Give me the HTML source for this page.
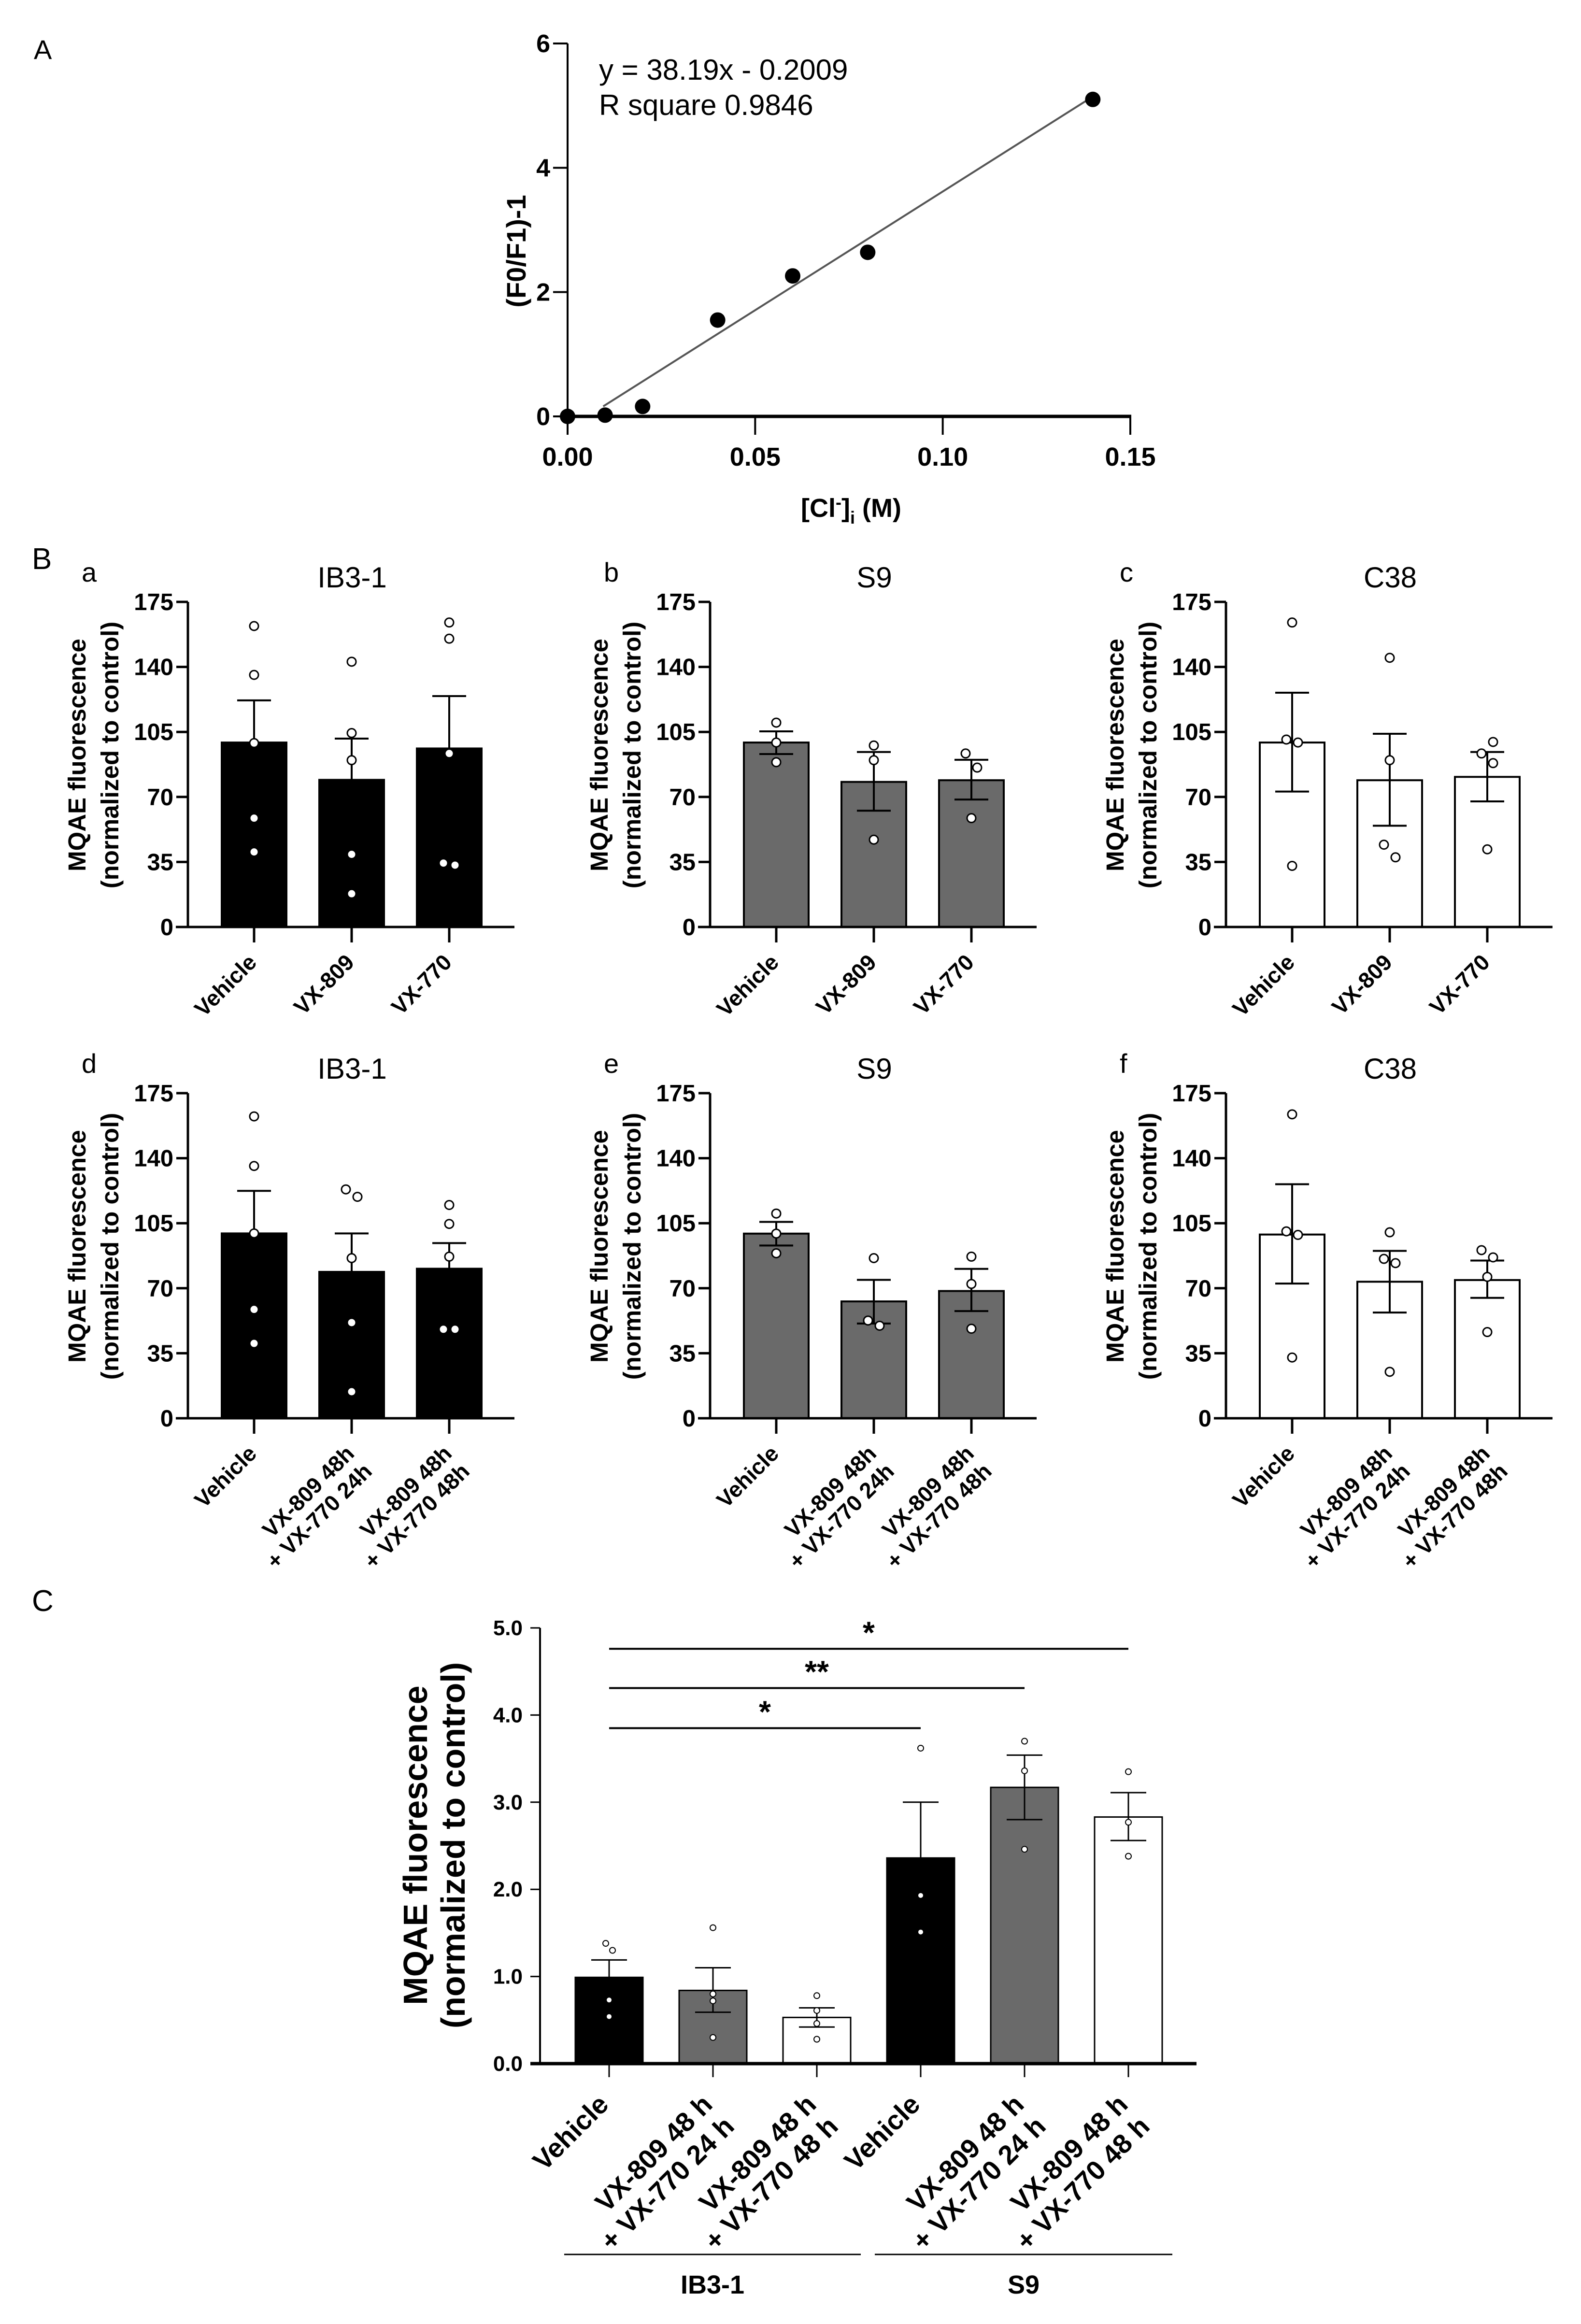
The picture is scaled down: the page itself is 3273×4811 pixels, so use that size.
<!DOCTYPE html>
<html><head><meta charset="utf-8">
<style>
html,body{margin:0;padding:0;background:#fff;}
svg{display:block;}
text{font-family:"Liberation Sans",Arial,sans-serif;fill:#000;}
</style></head>
<body>
<svg id="fig" xmlns="http://www.w3.org/2000/svg" width="3273" height="4811" viewBox="0 0 3273 4811">
<rect x="0" y="0" width="3273" height="4811" fill="#fff"/>
</svg>
<script>
// ---------- Panel A data ----------
const aConc = [0, 0.01, 0.02, 0.04, 0.06, 0.08, 0.14];
const aRatio = [0, 0.02, 0.16, 1.55, 2.26, 2.64, 5.10];
const aXTicks = [0, 0.05, 0.10, 0.15];
const aXTickLabels = ["0.00", "0.05", "0.10", "0.15"];
const aYTicks = [0, 2, 4, 6];
const aFitSlope = 38.19;
const aFitIntercept = -0.2009;
const aFitRange = [0.0095, 0.14];

// ---------- Panel B data ----------
const bTicks = [0, 35, 70, 105, 140, 175];
const bCatsTop = ["Vehicle", "VX-809", "VX-770"];
const bCatsBottom = [["Vehicle"], ["VX-809 48h", "+ VX-770 24h"], ["VX-809 48h", "+ VX-770 48h"]];
const bTitles = ["IB3-1", "S9", "C38", "IB3-1", "S9", "C38"];
const bLetters = ["a", "b", "c", "d", "e", "f"];
const bMeans = [
  [99.3, 79.2, 96.1],
  [99.3, 78.1, 79.0],
  [99.3, 79.0, 80.8],
  [99.5, 78.8, 80.5],
  [99.4, 62.9, 68.5],
  [98.9, 73.5, 74.4]
];
const bErrHi = [
  [122, 101.4, 124.3],
  [105.3, 94.2, 90.0],
  [126.1, 104.0, 94.2],
  [122.4, 99.5, 94.3],
  [105.7, 74.5, 80.4],
  [126, 90.1, 84.9]
];
const bErrLo = [
  [76.6, 57.0, 67.9],
  [93.1, 62.6, 68.6],
  [72.9, 54.5, 67.6],
  [76.6, 58.1, 66.7],
  [93.0, 51.0, 57.7],
  [72.5, 56.9, 64.8]
];
const bPoints = [
  [[162, 135.7, 99, 58.6, 40.4], [142.8, 104.4, 89.8, 39.1, 17.9], [163.9, 155.2, 93.4, 34.4, 33.3]],
  [[110, 99.3, 88.7], [97.7, 89.8, 47.0], [93.4, 85.8, 58.6]],
  [[163.9, 100.9, 99.3, 32.9], [144.9, 89.8, 44.3, 37.5], [99.6, 93.4, 88.2, 41.8]],
  [[162.5, 135.8, 99.5, 58.6, 40.3], [123.2, 119.2, 86.2, 51.5, 14.3], [114.8, 104.6, 87.0, 47.9, 47.9]],
  [[110.2, 99.4, 88.8], [86.2, 52.6, 49.8], [87.0, 72.3, 48.2]],
  [[163.6, 100.6, 98.7, 32.7], [100.1, 85.8, 83.5, 25.0], [90.5, 86.6, 76.1, 46.4]]
];
const bPointJitter = [
  [[0,0,0,0,0],[0,0,0,0,0],[0,0,0,-1,1]],
  [[0,0,0],[0,0,0],[-1,1,0]],
  [[0,-1,1,0],[0,0,-1,1],[1,-1,1,0]],
  [[0,0,0,0,0],[-1,1,0,0,0],[0,0,0,-1,1]],
  [[0,0,0],[0,-1,1],[0,0,0]],
  [[0,-1,1,0],[0,-1,1,0],[-1,1,0,0]]
];
const bFills = ["#000000", "#6a6a6a", "#ffffff", "#000000", "#6a6a6a", "#ffffff"];

// ---------- Panel C data ----------
const cTicks = [0, 1, 2, 3, 4, 5];
const cTickLabels = ["0.0", "1.0", "2.0", "3.0", "4.0", "5.0"];
const cCats = [["Vehicle"], ["VX-809 48 h", "+ VX-770 24 h"], ["VX-809 48 h", "+ VX-770 48 h"], ["Vehicle"], ["VX-809 48 h", "+ VX-770 24 h"], ["VX-809 48 h", "+ VX-770 48 h"]];
const cMeans = [0.99, 0.84, 0.53, 2.36, 3.17, 2.83];
const cErrHi = [1.19, 1.10, 0.64, 3.00, 3.54, 3.11];
const cErrLo = [0.79, 0.59, 0.42, 1.72, 2.80, 2.56];
const cPoints = [[1.38, 1.30, 0.73, 0.54], [1.56, 0.80, 0.72, 0.30], [0.78, 0.61, 0.46, 0.28], [3.62, 1.93, 1.51], [3.70, 3.36, 2.46], [3.35, 2.77, 2.38]];
const cPointJitter = [[-1, 1, 0, 0], [0, 0, 0, 0], [0, 0, 0, 0], [0, 0, 0], [0, 0, 0], [0, 0, 0]];
const cFills = ["#000000", "#6a6a6a", "#ffffff", "#000000", "#6a6a6a", "#ffffff"];
const cGroups = ["IB3-1", "S9"];
const cSig = [{from: 0, to: 3, label: "*", y: 3.85}, {from: 0, to: 4, label: "**", y: 4.31}, {from: 0, to: 5, label: "*", y: 4.76}];

const NS = "http://www.w3.org/2000/svg";
const svg = document.getElementById("fig");
function mk(tag, attrs, parent) {
  const e = document.createElementNS(NS, tag);
  for (const k in attrs) e.setAttribute(k, attrs[k]);
  (parent || svg).appendChild(e);
  return e;
}
function txt(s, attrs, parent) { const t = mk("text", attrs, parent); t.textContent = s; return t; }

// ================= Panel A =================
(function () {
  const g = mk("g", {});
  
  
  const X0 = 1175, X1 = 2340, Y0 = 862, Y1 = 90;
  const sx = v => X0 + (v - 0) / 0.15 * (X1 - X0);
  const sy = v => Y0 - v / 6 * (Y0 - Y1);
  let t = txt("A", {x: 70, y: 122, "font-size": 56}, g);
  
  
  let l = mk("line", {x1: X0, y1: Y0, x2: X0, y2: Y1, stroke: "#000", "stroke-width": 4}, g);
  
  
  l = mk("line", {x1: X0 - 2, y1: Y0, x2: X1 + 2, y2: Y0, stroke: "#000", "stroke-width": 7}, g);
  
  
  aYTicks.forEach(v => {
    const tk = mk("line", {x1: X0 - 30, y1: sy(v), x2: X0, y2: sy(v), stroke: "#000", "stroke-width": 4}, g);
    
    
    const tl = txt(String(v), {x: X0 - 36, y: sy(v) + 18, "font-size": 52, "font-weight": "bold", "text-anchor": "end"}, g);
    
    
  });
  aXTicks.forEach((v, i) => {
    const tk = mk("line", {x1: sx(v), y1: Y0, x2: sx(v), y2: Y0 + 38, stroke: "#000", "stroke-width": 4}, g);
    
    
    const tl = txt(aXTickLabels[i], {x: sx(v), y: Y0 + 102, "font-size": 54, "font-weight": "bold", "text-anchor": "middle"}, g);
    
    
  });
  const fit = mk("line", {x1: sx(aFitRange[0]), y1: sy(aFitSlope * aFitRange[0] + aFitIntercept), x2: sx(aFitRange[1]), y2: sy(aFitSlope * aFitRange[1] + aFitIntercept), stroke: "#555", "stroke-width": 4}, g);
  
  
  aConc.forEach((c, i) => {
    const p = mk("ellipse", {cx: sx(c), cy: sy(aRatio[i]), rx: 16, ry: 16, fill: "#000"}, g);
    
    
  });
  t = txt("y = 38.19x - 0.2009", {x: 1240, y: 165, "font-size": 60}, g);
  
  
  t = txt("R square 0.9846", {x: 1240, y: 238, "font-size": 60}, g);
  
  
  t = txt("(F0/F1)-1", {x: 0, y: 0, "font-size": 56, "font-weight": "bold", "text-anchor": "middle", transform: "translate(1088,520) rotate(-90)"}, g);
  
  
  t = mk("text", {x: 1762, y: 1070, "font-size": 54, "font-weight": "bold", "text-anchor": "middle"}, g);
  t.innerHTML = '[Cl<tspan dy="-18" font-size="36">-</tspan><tspan dy="18">]</tspan><tspan dy="14" font-size="36">i</tspan><tspan dy="-14"> (M)</tspan>';
  
  
})();

// ================= Panel B =================
let t0 = txt("B", {x: 66, y: 1178, "font-size": 62}, svg);



const axisXs = [389, 1470, 2538];
const rows = [{y0: 1919, y175: 1246}, {y0: 2936, y175: 2263}];
for (let p = 0; p < 6; p++) {
  const row = Math.floor(p / 3), col = p % 3;
  const AX = axisXs[col], Y0 = rows[row].y0, YT = rows[row].y175;
  const sy = v => Y0 - v / 175 * (Y0 - YT);
  const bx = i => AX + 137 + i * 202;
  const g = mk("g", {});
  
  
  let t = txt(bLetters[p], {x: AX - 220, y: YT - 42, "font-size": 56}, g);
  
  
  t = txt(bTitles[p], {x: AX + 340, y: YT - 30, "font-size": 60, "text-anchor": "middle"}, g);
  
  
  t = txt("MQAE fluorescence", {x: 0, y: 0, "font-size": 51, "font-weight": "bold", "text-anchor": "middle", transform: "translate(" + (AX - 212) + "," + (Y0 - 356) + ") rotate(-90)"}, g);
  
  
  t = txt("(normalized to control)", {x: 0, y: 0, "font-size": 51, "font-weight": "bold", "text-anchor": "middle", transform: "translate(" + (AX - 144) + "," + (Y0 - 356) + ") rotate(-90)"}, g);
  
  
  for (let i = 0; i < 3; i++) {
    const r = mk("rect", {x: bx(i) - 67, y: sy(bMeans[p][i]), width: 134, height: Y0 - sy(bMeans[p][i]), fill: bFills[p], stroke: "#000", "stroke-width": 4}, g);
    
    
    const e = mk("path", {d: "M" + bx(i) + "," + sy(bErrLo[p][i]) + "V" + sy(bErrHi[p][i]) + "M" + (bx(i) - 35) + "," + sy(bErrHi[p][i]) + "h70M" + (bx(i) - 35) + "," + sy(bErrLo[p][i]) + "h70", stroke: "#000", "stroke-width": 4, fill: "none"}, g);
    
    
    bPoints[p][i].forEach((v, k) => {
      const c = mk("circle", {cx: bx(i) + bPointJitter[p][i][k] * 12, cy: sy(v), r: 9, fill: "#fff", stroke: "#000", "stroke-width": 3}, g);
      
      
    });
    const tk = mk("line", {x1: bx(i), y1: Y0, x2: bx(i), y2: Y0 + 32, stroke: "#000", "stroke-width": 5}, g);
    
    
    const lab = mk("text", {x: 0, y: 0, "font-size": 46, "font-weight": "bold", "text-anchor": "end", transform: "translate(" + (bx(i) + 8) + "," + (Y0 + 76) + ") rotate(-45)"}, g);
    const lines = row === 0 ? [bCatsTop[i]] : bCatsBottom[i];
    lines.forEach((s, k) => {
      const ts = mk("tspan", {x: 0, dy: k === 0 ? 0 : 52}, lab);
      ts.textContent = s;
    });
    
    
  }
  let l = mk("line", {x1: AX, y1: Y0 + 2, x2: AX, y2: YT, stroke: "#000", "stroke-width": 5}, g);
  
  
  l = mk("line", {x1: AX - 25, y1: Y0, x2: AX + 676, y2: Y0, stroke: "#000", "stroke-width": 5}, g);
  
  
  bTicks.forEach(v => {
    const tk = mk("line", {x1: AX - 24, y1: sy(v), x2: AX, y2: sy(v), stroke: "#000", "stroke-width": 5}, g);
    
    
    const tl = txt(String(v), {x: AX - 30, y: sy(v) + 17, "font-size": 49, "font-weight": "bold", "text-anchor": "end"}, g);
    
    
  });
}

// ================= Panel C =================
(function () {
  const g = mk("g", {});
  
  
  const AX = 1118, Y0 = 4272, YT = 3370;
  const sy = v => Y0 - v / 5 * (Y0 - YT);
  const bx = i => 1261 + i * 215;
  let t = txt("C", {x: 66, y: 3335, "font-size": 62}, g);
  
  
  t = txt("MQAE fluorescence", {x: 0, y: 0, "font-size": 70, "font-weight": "bold", "text-anchor": "middle", transform: "translate(884,3820) rotate(-90)"}, g);
  
  
  t = txt("(normalized to control)", {x: 0, y: 0, "font-size": 70, "font-weight": "bold", "text-anchor": "middle", transform: "translate(962,3820) rotate(-90)"}, g);
  
  
  cMeans.forEach((m, i) => {
    const r = mk("rect", {x: bx(i) - 70, y: sy(m), width: 140, height: Y0 - sy(m), fill: cFills[i], stroke: "#000", "stroke-width": 3}, g);
    
    
    const e = mk("path", {d: "M" + bx(i) + "," + sy(cErrLo[i]) + "V" + sy(cErrHi[i]) + "M" + (bx(i) - 37) + "," + sy(cErrHi[i]) + "h74M" + (bx(i) - 37) + "," + sy(cErrLo[i]) + "h74", stroke: "#000", "stroke-width": 3, fill: "none"}, g);
    
    
    cPoints[i].forEach((v, k) => {
      const c = mk("circle", {cx: bx(i) + cPointJitter[i][k] * 7, cy: sy(v), r: 6, fill: "#fff", stroke: "#000", "stroke-width": 2}, g);
      
      
    });
    const tk = mk("line", {x1: bx(i), y1: Y0, x2: bx(i), y2: Y0 + 28, stroke: "#000", "stroke-width": 3}, g);
    
    
    const lab = mk("text", {x: 0, y: 0, "font-size": 56, "font-weight": "bold", "text-anchor": "end", transform: "translate(" + (bx(i) + 2) + "," + (Y0 + 88) + ") rotate(-45)"}, g);
    cCats[i].forEach((s, k) => {
      const ts = mk("tspan", {x: 0, dy: k === 0 ? 0 : 64}, lab);
      ts.textContent = s;
    });
    
    
  });
  let l = mk("line", {x1: AX, y1: Y0 + 2, x2: AX, y2: YT, stroke: "#000", "stroke-width": 4}, g);
  
  
  l = mk("line", {x1: AX - 20, y1: Y0, x2: 2477, y2: Y0, stroke: "#000", "stroke-width": 7}, g);
  
  
  cTicks.forEach((v, i) => {
    const tk = mk("line", {x1: AX - 20, y1: sy(v), x2: AX, y2: sy(v), stroke: "#000", "stroke-width": 3}, g);
    
    
    const tl = txt(cTickLabels[i], {x: AX - 36, y: sy(v) + 15, "font-size": 44, "font-weight": "bold", "text-anchor": "end"}, g);
    
    
  });
  cSig.forEach(s => {
    const ln = mk("line", {x1: bx(s.from), y1: sy(s.y), x2: bx(s.to), y2: sy(s.y), stroke: "#000", "stroke-width": 4}, g);
    
    
    const st = txt(s.label, {x: (bx(s.from) + bx(s.to)) / 2, y: sy(s.y) - 12, "font-size": 64, "font-weight": "bold", "text-anchor": "middle"}, g);
    
    
  });
  const groupSpans = [[1168, 1782], [1811, 2427]];
  cGroups.forEach((name, k) => {
    const ln = mk("line", {x1: groupSpans[k][0], y1: 4667, x2: groupSpans[k][1], y2: 4667, stroke: "#000", "stroke-width": 3}, g);
    
    
    const gt = txt(name, {x: (groupSpans[k][0] + groupSpans[k][1]) / 2, y: 4748, "font-size": 54, "font-weight": "bold", "text-anchor": "middle"}, g);
    
    
  });
})();
</script>
</body></html>
